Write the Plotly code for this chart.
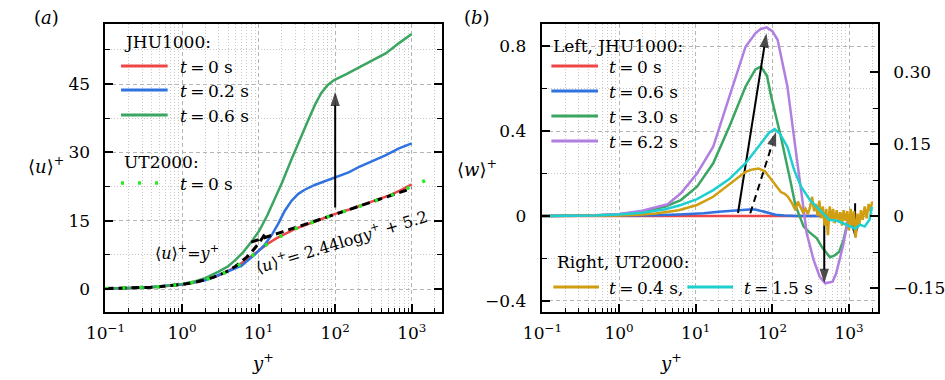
import plotly.graph_objects as go

FONT = "DejaVu Serif"
W, H = 945, 380

# ---------------- panel (a): mean velocity ----------------
yp_red = [0.1, 0.2, 0.3, 0.5, 0.7, 1, 1.5, 2, 3, 4, 5, 7, 10, 13, 17, 22, 30, 40, 55, 75,
          100, 150, 200, 300, 500, 700, 1000]
u_red = [0.1, 0.2, 0.3, 0.5, 0.7, 1.0, 1.5, 2.0, 2.95, 3.9, 4.8, 6.4, 8.4, 9.9, 11.1, 12.1,
         13.2, 14.0, 14.9, 15.7, 16.5, 17.4, 18.1, 19.1, 20.5, 21.6, 23.0]

yp_blue = [0.1, 0.3, 1, 2, 4, 6, 9, 12, 15, 18, 22, 27, 33, 40, 55, 75, 100, 150, 210, 300,
           460, 680, 1000]
u_blue = [0.1, 0.3, 0.97, 1.9, 3.9, 5.1, 7.6, 9.7, 12.0, 14.3, 17.2, 19.4, 20.9, 21.8, 22.9,
          23.7, 24.4, 25.6, 26.9, 28.1, 29.4, 30.9, 32.0]

yp_green = [0.1, 0.2, 0.3, 0.5, 0.7, 1, 1.5, 2, 3, 4, 5, 6.3, 8, 10.2, 13, 16.6, 20.4, 26.9,
            33, 44.5, 55, 65.6, 80, 97, 140, 211, 300, 462, 682, 1000]
u_green = [0.1, 0.2, 0.3, 0.52, 0.74, 1.08, 1.7, 2.4, 3.8, 5.0, 6.4, 8.1, 10.3, 12.8, 16.2,
           20.1, 23.5, 28.5, 32.1, 37.1, 40.6, 43.0, 44.8, 45.9, 47.2, 48.8, 50.2, 51.8, 54.0, 56.0]

yp_ut = [0.1, 0.2, 0.3, 0.5, 0.7, 1, 1.5, 2, 3, 4, 5, 7, 10, 13, 17, 22, 30, 40, 55, 75, 100,
         150, 200, 300, 500, 700, 1000, 1300, 1630]
u_ut = [0.1, 0.2, 0.3, 0.5, 0.7, 1.0, 1.5, 2.0, 2.95, 3.9, 4.8, 6.4, 8.4, 9.9, 11.1, 12.1, 13.2,
        14.0, 14.9, 15.7, 16.5, 17.3, 18.0, 19.0, 20.4, 21.4, 22.6, 23.4, 24.1]

yp_visc = [0.1, 0.15, 0.2, 0.3, 0.4, 0.5, 0.7, 1, 1.5, 2, 2.5, 3, 4, 5, 6, 7, 8, 9, 10, 11, 12.5]
u_visc = [0.1, 0.15, 0.2, 0.3, 0.4, 0.5, 0.7, 1, 1.5, 2, 2.5, 3, 4, 5, 6, 7, 8, 9, 10, 11, 12.5]

yp_log = [8, 10, 20, 50, 100, 200, 500, 1000]
u_log = [10.3, 10.8, 12.5, 14.7, 16.4, 18.1, 20.4, 22.1]

arrow_a_x = [100, 100]
arrow_a_y = [17.9, 43.3]

# ---------------- panel (b): spanwise velocity ----------------
yp_b_red = [0.1, 1, 10, 100, 1000]
w_b_red = [0, 0, 0, 0, 0]

yp_b_blue = [0.1, 1, 3, 6, 12.7, 20, 36.5, 50, 60, 75, 88, 110, 143, 200, 1000]
w_b_blue = [0, 0.001, 0.003, 0.007, 0.0125, 0.02, 0.028, 0.031, 0.031, 0.022, 0.0125, 0.006,
            0.002, 0, 0]

yp_b_green = [0.1, 0.5, 1, 2, 4, 6.4, 10.4, 16.9, 27.4, 44.7, 60, 71, 85, 96.6, 129, 150, 173,
              200, 224, 256, 300, 380, 450, 510, 563, 650, 745, 850, 912, 1000]
w_b_green = [0, 0.003, 0.008, 0.02, 0.045, 0.075, 0.138, 0.248, 0.42, 0.61, 0.69, 0.703, 0.66,
             0.561, 0.373, 0.27, 0.16, 0.05, 0.0, -0.05, -0.075, -0.105, -0.15, -0.176, -0.194,
             -0.185, -0.168, -0.11, -0.066, 0.0]

yp_b_purple = [0.1, 0.5, 1, 2, 4.3, 6.4, 10.4, 16.9, 27.4, 44.7, 60, 70, 84, 100, 117, 157,
               200, 230, 256, 280, 345, 415, 490, 610, 680, 830, 960, 1000]
w_b_purple = [0, 0.004, 0.01, 0.025, 0.055, 0.107, 0.2, 0.326, 0.561, 0.797, 0.86, 0.88, 0.888,
              0.87, 0.83, 0.61, 0.32, 0.14, 0.03, -0.08, -0.207, -0.286, -0.317, -0.309, -0.27,
              -0.144, -0.019, 0.0]

yp_b_gold = [0.1, 0.5, 1, 2, 3, 6, 10.4, 16.9, 27.4, 44.7, 55, 66, 80, 96.6, 115, 129, 145, 160,
             180, 200, 215, 230, 250, 270, 290, 310, 330, 350, 370, 390, 410, 430, 455, 480, 505,
             530, 560, 590, 620, 650, 690, 730, 770, 810, 850, 900, 950, 1000, 1050, 1100, 1160,
             1220, 1290, 1360, 1430, 1510, 1600, 1700, 1800, 1900, 2000]
w_b_gold = [0, 0.0005, 0.001, 0.003, 0.005, 0.012, 0.023, 0.04, 0.065, 0.092, 0.097, 0.099,
            0.093, 0.076, 0.058, 0.05, 0.046, 0.04, 0.027, 0.012, 0.03, 0.02, 0.008, 0.015,
            0.004, 0.018, 0.04, 0.01, 0.025, 0.0, 0.032, -0.005, 0.02, -0.02, 0.015, -0.04, 0.02,
            -0.01, 0.015, -0.015, 0.012, -0.01, 0.008, -0.02, 0.012, -0.01, 0.01, -0.03, 0.015,
            -0.02, 0.01, -0.045, 0.005, -0.02, 0.012, -0.008, 0.02, -0.005, 0.025, 0.01, 0.03]

yp_b_cyan = [0.1, 0.5, 1, 2, 4, 6.4, 10.4, 16.9, 27.4, 44.7, 70, 90, 107, 125, 157, 192, 237,
             310, 415, 550, 700, 830, 1000, 1200, 1400, 1600, 1850, 1990]
w_b_cyan = [0, 0.001, 0.003, 0.007, 0.014, 0.023, 0.035, 0.054, 0.077, 0.11, 0.15, 0.173,
            0.181, 0.172, 0.144, 0.096, 0.061, 0.033, 0.0125, -0.008, -0.01, -0.015, -0.02,
            -0.026, -0.018, -0.022, -0.008, 0.019]

arrow_b1_x = [35.6, 83.7]
arrow_b1_y = [0.014, 0.86]
arrow_b2_x = [51.5, 112]
arrow_b2_y = [0.013, 0.397]
arrow_b3_x = [475, 475]
arrow_b3_y = [-0.009, -0.315]
arrow_b4_x = [1200, 1200]
arrow_b4_y = [0.06, -0.105]

C_RED, C_BLUE, C_GREEN = "#ee4646", "#2f72e0", "#3ba562"
C_LIME, C_PURPLE, C_GOLD, C_CYAN = "#22ee22", "#b07fe0", "#d19e12", "#1ecfcf"

fig = go.Figure()


def line(x, y, color, xa, ya, width=2.5, dash=None):
    fig.add_trace(go.Scatter(x=x, y=y, mode="lines", xaxis=xa, yaxis=ya,
                             line=dict(color=color, width=width, dash=dash),
                             showlegend=False, hoverinfo="skip"))


def arrow(x, y, xa, ya, dash=None):
    fig.add_trace(go.Scatter(x=x, y=y, mode="lines+markers", xaxis=xa, yaxis=ya,
                             line=dict(color="black", width=2, dash=dash),
                             marker=dict(symbol="arrow", size=[0, 15], angleref="previous",
                                         color="black", line=dict(width=0)),
                             showlegend=False, hoverinfo="skip"))


# panel (a)
line(yp_red, u_red, C_RED, "x", "y")
line(yp_blue, u_blue, C_BLUE, "x", "y")
line(yp_green, u_green, C_GREEN, "x", "y")
line(yp_visc, u_visc, "black", "x", "y", width=3, dash="8px,5px")
line(yp_log, u_log, "black", "x", "y", width=3, dash="8px,5px")
line(yp_ut, u_ut, C_LIME, "x", "y", width=3.5, dash="3px,14px")
arrow(arrow_a_x, arrow_a_y, "x", "y")

# panel (b)
line(yp_b_red, w_b_red, C_RED, "x2", "y2")
line(yp_b_blue, w_b_blue, C_BLUE, "x2", "y2")
line(yp_b_gold, w_b_gold, C_GOLD, "x2", "y3")
line(yp_b_cyan, w_b_cyan, C_CYAN, "x2", "y3")
line(yp_b_green, w_b_green, C_GREEN, "x2", "y2")
line(yp_b_purple, w_b_purple, C_PURPLE, "x2", "y2")
arrow(arrow_b1_x, arrow_b1_y, "x2", "y2")
arrow(arrow_b2_x, arrow_b2_y, "x2", "y2", dash="7px,5px")
arrow(arrow_b3_x, arrow_b3_y, "x2", "y2")
arrow(arrow_b4_x, arrow_b4_y, "x2", "y2")

# ---------------- axes ----------------
tickfont = dict(family=FONT, size=17, color="black")
xt_vals = [0.1, 1, 10, 100, 1000]
xt_text = ["10<sup>\u22121</sup>", "10<sup>0</sup>", "10<sup>1</sup>", "10<sup>2</sup>", "10<sup>3</sup>"]
xminor = [m * 10 ** e for e in (-1, 0, 1, 2) for m in range(2, 10)] + [2000]

MAJ_GRID = dict(showgrid=True, gridcolor="#b5b5b5", gridwidth=1, griddash="4px,3px")


def minor(vals, grid=True, length=4):
    d = dict(tickmode="array", tickvals=vals, ticks="inside", ticklen=length, tickwidth=1.2,
             tickcolor="black", showgrid=grid)
    if grid:
        d.update(gridcolor="#c8c8c8", gridwidth=1, griddash="1px,2px")
    return d


base = dict(showline=True, linecolor="black", linewidth=2, ticks="inside", ticklen=8,
            tickwidth=1.5, tickcolor="black", tickfont=tickfont, zeroline=False)

dom_y = [1 - 312 / H, 1 - 24 / H]

fig.update_layout(
    width=W, height=H, margin=dict(l=0, r=0, t=0, b=0),
    paper_bgcolor="white", plot_bgcolor="white", showlegend=False,
    font=dict(family=FONT, size=17, color="black"),
    xaxis=dict(base, **MAJ_GRID, type="log", domain=[88 / W, 434 / W], anchor="y",
               range=[-1, 3.39], tickmode="array", tickvals=xt_vals, ticktext=xt_text,
               mirror=True, ticklabelstandoff=5, minor=minor(xminor)),
    yaxis=dict(base, **MAJ_GRID, domain=dom_y, anchor="x", range=[-5.05, 58.2],
               tickmode="array", tickvals=[0, 15, 30, 45], ticktext=["0", "15", "30", "45"],
               mirror="allticks", ticklabelstandoff=10,
               minor=minor([7.5, 22.5, 37.5, 52.5], length=5)),
    xaxis2=dict(base, **MAJ_GRID, type="log", domain=[537 / W, 883 / W], anchor="y2",
                range=[-1.01, 3.375], tickmode="array", tickvals=xt_vals, ticktext=xt_text,
                mirror=True, ticklabelstandoff=5, minor=minor(xminor)),
    yaxis2=dict(base, **MAJ_GRID, domain=dom_y, anchor="x2", range=[-0.452, 0.904],
                tickmode="array", tickvals=[-0.4, 0, 0.4, 0.8],
                ticktext=["\u22120.4", "0", "0.4", "0.8"], ticklabelstandoff=10,
                minor=minor([-0.2, 0.2, 0.6], length=5)),
    yaxis3=dict(base, showgrid=False, overlaying="y2", side="right", anchor="x2",
                range=[-0.2, 0.4], tickmode="array", tickvals=[-0.15, 0, 0.15, 0.30],
                ticktext=["\u22120.15", "0", "0.15", "0.30"], ticklabelstandoff=10,
                minor=minor([-0.075, 0.075, 0.225], grid=False, length=5)),
)


# ---------------- text, legends ----------------
def P(px, py):
    return px / W, 1 - py / H


def text(px, py, s, size=17, xanchor="left", angle=0):
    x, y = P(px, py)
    fig.add_annotation(x=x, y=y, xref="paper", yref="paper", text=s, showarrow=False,
                       xanchor=xanchor, yanchor="middle", textangle=angle, borderpad=0,
                       font=dict(family=FONT, size=size, color="black"))


def sample(px0, px1, py, color, width=2.8, dash=None):
    x0, y0 = P(px0, py)
    x1, _ = P(px1, py)
    fig.add_shape(type="line", xref="paper", yref="paper", x0=x0, x1=x1, y0=y0, y1=y0,
                  line=dict(color=color, width=width, dash=dash))


T = "<i>t</i>\u2009=\u2009"
# panel labels and axis titles
text(27, 17, "(<i>a</i>)", size=18, xanchor="center")
text(470, 17, "(<i>b</i>)", size=18, xanchor="center")
text(27, 165, "\u27e8<i>u</i>\u27e9<sup>+</sup>", size=18, xanchor="center")
text(470, 168, "\u27e8<i>w</i>\u27e9<sup>+</sup>", size=18, xanchor="center")
text(250, 362, "<i>y</i><sup>+</sup>", size=18, xanchor="center")
text(670, 362, "<i>y</i><sup>+</sup>", size=18, xanchor="center")

# equations
text(172, 253, "\u27e8<i>u</i>\u27e9<sup>+</sup>=<i>y</i><sup>+</sup>", size=16, xanchor="center")
text(331, 241, "\u27e8<i>u</i>\u27e9<sup>+</sup>= 2.44log<i>y</i><sup>+</sup> + 5.2", size=16,
     xanchor="center", angle=-17)

# legend (a)
text(106, 42, "JHU1000:")
for py, c, lab in [(66, C_RED, "0 s"), (90, C_BLUE, "0.2 s"), (115, C_GREEN, "0.6 s")]:
    sample(104, 152, py, c)
    text(164, py + 1, T + lab)
text(106, 162, "UT2000:")
sample(104, 152, 183, C_LIME, width=3.5, dash="3px,14px")
text(164, 184, T + "0 s")

# legend (b)
text(548, 46, "Left, JHU1000:")
for py, c, lab in [(66, C_RED, "0 s"), (91, C_BLUE, "0.6 s"), (116, C_GREEN, "3.0 s"),
                   (141, C_PURPLE, "6.2 s")]:
    sample(547, 595, py, c)
    text(605, py + 1, T + lab)
text(552, 262, "Right, UT2000:")
sample(549, 596, 287, C_GOLD)
text(605, 288, T + "0.4 s,")
sample(687, 734, 287, C_CYAN)
text(744, 288, T + "1.5 s")

fig.write_html("out.html")
